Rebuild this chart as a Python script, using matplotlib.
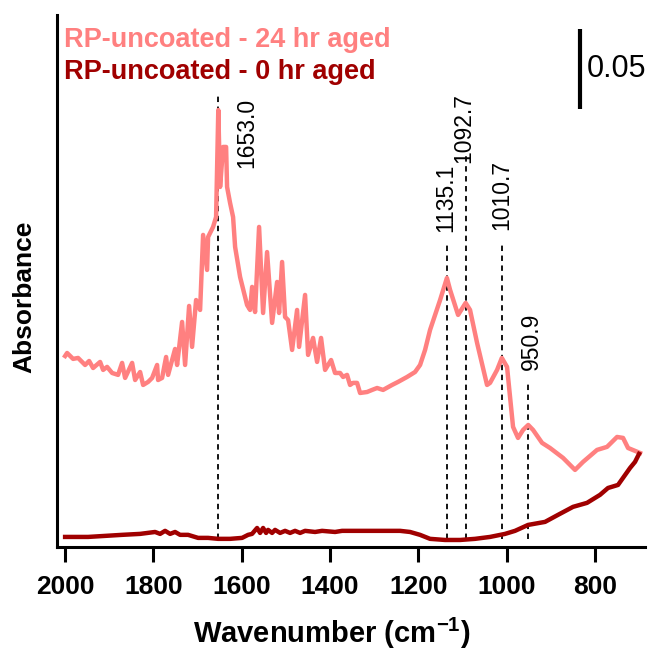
import matplotlib
matplotlib.use("Agg")
import matplotlib.pyplot as plt

plt.rcParams["font.family"] = ["Liberation Sans", "DejaVu Sans"]
plt.rcParams["mathtext.fontset"] = "custom"
plt.rcParams["mathtext.bf"] = "Liberation Sans:bold"
plt.rcParams["mathtext.rm"] = "Liberation Sans"

# 24 hr aged spectrum (wavenumber, absorbance)
wn_24 = [2000, 1995.5, 1981.9, 1970.6, 1954.7, 1945.6, 1936.6, 1920.7, 1913.9, 1904.9,
         1893.5, 1880.0, 1870.9, 1864.1, 1848.2, 1841.4, 1830.1, 1823.3, 1812.0, 1802.9,
         1791.6, 1789.4, 1780.3, 1771.2, 1766.7, 1750.9, 1746.3, 1735.0, 1728.2, 1719.1,
         1712.4, 1703.3, 1694.2, 1687.4, 1678.4, 1676.1, 1664.8, 1658.0, 1653.0, 1648.9,
         1642.1, 1635.3, 1633.1, 1626.3, 1619.5, 1614.9, 1603.6, 1587.8, 1581.0, 1576.4,
         1569.7, 1560.6, 1551.5, 1542.5, 1531.1, 1519.8, 1515.3, 1508.5, 1501.7, 1494.9,
         1485.8, 1474.5, 1470.0, 1456.4, 1449.6, 1438.3, 1429.2, 1420.2, 1411.1, 1397.5,
         1388.5, 1377.1, 1370.3, 1361.3, 1354.5, 1347.7, 1338.6, 1331.8, 1316.0, 1304.6,
         1293.3, 1279.7, 1259.4, 1245.8, 1225.4, 1207.3, 1195.9, 1184.6, 1173.3, 1150.6,
         1135.1, 1127.9, 1109.8, 1092.7, 1082.7, 1066.8, 1044.2, 1037.4, 1021.5, 1010.7,
         998.9, 985.3, 974.0, 962.6, 950.9, 940.0, 919.6, 901.5, 872.0, 844.9,
         826.7, 795.0, 772.4, 749.7, 736.1, 724.8, 697.6]
abs_24 = [0.1181, 0.1200, 0.1163, 0.1169, 0.1125, 0.1150, 0.1106, 0.1144, 0.1094, 0.1113,
          0.1075, 0.1063, 0.1138, 0.1044, 0.1138, 0.1031, 0.1081, 0.1000, 0.1019, 0.1044,
          0.1125, 0.1031, 0.1044, 0.1175, 0.1063, 0.1225, 0.1125, 0.1394, 0.1125, 0.1494,
          0.1238, 0.1531, 0.1469, 0.1938, 0.1719, 0.1925, 0.1988, 0.2050, 0.2719, 0.2238,
          0.2488, 0.2488, 0.2238, 0.2138, 0.2050, 0.1863, 0.1675, 0.1500, 0.1469, 0.1613,
          0.1456, 0.1988, 0.1450, 0.1831, 0.1388, 0.1644, 0.1450, 0.1769, 0.1425, 0.1406,
          0.1219, 0.1469, 0.1238, 0.1563, 0.1188, 0.1294, 0.1144, 0.1294, 0.1094, 0.1156,
          0.1075, 0.1075, 0.1050, 0.1063, 0.1000, 0.1013, 0.1013, 0.0950, 0.0956, 0.0969,
          0.0981, 0.0969, 0.1000, 0.1019, 0.1050, 0.1081, 0.1125, 0.1219, 0.1344, 0.1531,
          0.1669, 0.1594, 0.1438, 0.1513, 0.1469, 0.1263, 0.1000, 0.1013, 0.1094, 0.1169,
          0.1113, 0.0738, 0.0669, 0.0719, 0.0750, 0.0719, 0.0638, 0.0606, 0.0544, 0.0469,
          0.0519, 0.0594, 0.0613, 0.0675, 0.0669, 0.0606, 0.0575]

# 0 hr aged spectrum
wn_0 = [2000, 1947.9, 1870.9, 1830.1, 1796.2, 1784.8, 1773.5, 1762.2, 1750.9, 1739.5,
        1721.4, 1698.8, 1676.1, 1653.5, 1626.3, 1599.1, 1585.5, 1576.5, 1565.1, 1558.3,
        1551.5, 1544.7, 1540.2, 1531.1, 1524.4, 1513.0, 1501.7, 1490.4, 1479.1, 1467.7,
        1456.4, 1433.8, 1417.9, 1388.5, 1372.6, 1343.2, 1286.5, 1241.2, 1218.6, 1196.0,
        1173.3, 1139.3, 1105.3, 1071.4, 1037.4, 1003.4, 980.8, 951.3, 912.8, 883.4,
        849.4, 817.7, 788.3, 770.2, 747.5, 720.3, 709.0, 699.9]
abs_0 = [0.0050, 0.0050, 0.0063, 0.0069, 0.0081, 0.0069, 0.0088, 0.0069, 0.0081, 0.0063,
         0.0063, 0.0044, 0.0044, 0.0038, 0.0038, 0.0044, 0.0063, 0.0069, 0.0106, 0.0075,
         0.0106, 0.0075, 0.0094, 0.0075, 0.0094, 0.0075, 0.0088, 0.0075, 0.0088, 0.0075,
         0.0088, 0.0081, 0.0088, 0.0081, 0.0088, 0.0088, 0.0088, 0.0088, 0.0081, 0.0063,
         0.0038, 0.0031, 0.0031, 0.0038, 0.0050, 0.0069, 0.0088, 0.0125, 0.0144, 0.0188,
         0.0238, 0.0263, 0.0313, 0.0356, 0.0375, 0.0481, 0.0519, 0.0569]

# marked peaks
peaks = [1653.0, 1135.1, 1092.7, 1010.7, 950.9]
peak_labels = ["1653.0", "1135.1", "1092.7", "1010.7", "950.9"]

light = "#FF8080"
dark = "#A00000"

fig = plt.figure(figsize=(6.57, 6.55), dpi=100)
ax = fig.add_axes([0.087, 0.165, 0.895, 0.812])

# dashed markers: (line top, label x, label bottom)
marks = [(0.2825, 1588, 0.2356), (0.1894, 1137, 0.1956), (0.2438, 1098, 0.2388),
         (0.1888, 1012, 0.1969), (0.1013, 944, 0.1094)]
for p, lab, (top, tx, ty) in zip(peaks, peak_labels, marks):
    ax.plot([p, p], [0.004, top], color="black", lw=1.3, ls=(0, (3, 2.5)), zorder=1)
    ax.text(tx, ty, lab, rotation=90, ha="center", va="bottom", fontsize=16.5)

ax.plot(wn_24, abs_24, color=light, lw=3.2, zorder=2, solid_joinstyle="round")
ax.plot(wn_0, abs_0, color=dark, lw=3.2, zorder=2, solid_joinstyle="round")

ax.set_xlim(2018, 686)
ax.set_ylim(-0.00125, 0.33125)
ax.set_xticks([2000, 1800, 1600, 1400, 1200, 1000, 800])
ax.set_yticks([])
for s in ["top", "right"]:
    ax.spines[s].set_visible(False)
for s in ["left", "bottom"]:
    ax.spines[s].set_linewidth(2.2)
ax.tick_params(axis="x", length=11, width=2.2, pad=9, labelsize=19)
for t in ax.get_xticklabels():
    t.set_fontweight("bold")
ax.set_xlabel(r"Wavenumber (cm$^{\mathbf{-1}}$)", fontsize=21, fontweight="bold")
ax.xaxis.set_label_coords(0.466, -0.13)
ax.set_ylabel("Absorbance", fontsize=19, fontweight="bold")
ax.yaxis.set_label_coords(-0.036, 0.47)

# legend as coloured text
ax.text(0.012, 0.953, "RP-uncoated - 24 hr aged", transform=ax.transAxes, color=light,
        fontsize=19.5, fontweight="bold", va="center")
ax.text(0.012, 0.893, "RP-uncoated - 0 hr aged", transform=ax.transAxes, color=dark,
        fontsize=19.5, fontweight="bold", va="center")

# 0.05 scale bar
ax.plot([833, 833], [0.2725, 0.3225], color="black", lw=3, solid_capstyle="butt", clip_on=False)
ax.text(818, 0.2975, "0.05", fontsize=22, va="center", ha="left")

fig.savefig("out.png", dpi=100)
